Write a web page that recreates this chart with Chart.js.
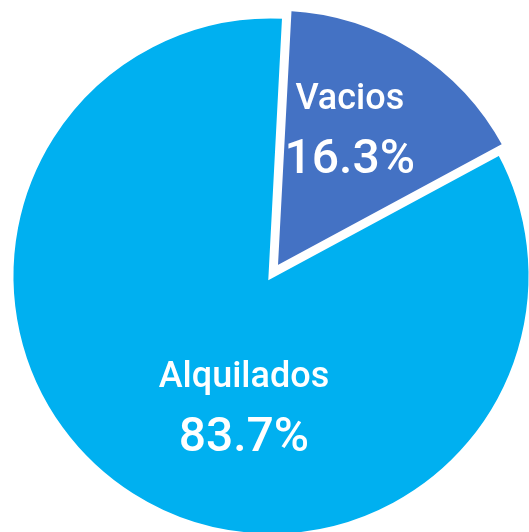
<!DOCTYPE html>
<html>
<head>
<meta charset="utf-8">
<script src="https://cdn.jsdelivr.net/npm/chart.js@4"></script>
<style>
  html, body { margin: 0; padding: 0; background: #ffffff; overflow: hidden; width: 529px; height: 532px; }
  #wrap { position: absolute; left: 0; top: 0; }
</style>
</head>
<body>
<div id="wrap"><canvas id="c" width="542" height="552"></canvas></div>
<script>
const categories = ['Vacios', 'Alquilados'];
const values = [16.3, 83.7];
const colors = ['#4472C4', '#00B0F0'];
const sliceOffsets = [32, 0];

// label placement relative to each slice: angle shift (deg) and radius fraction
const labelPlacement = [
  { dAngle: -4.8, frac: 0.62 },
  { dAngle: -20.4, frac: 0.503 }
];

const labelPlugin = {
  id: 'sliceLabels',
  afterDatasetsDraw(chart) {
    const ctx = chart.ctx;
    const meta = chart.getDatasetMeta(0);
    const total = values.reduce((a, b) => a + b, 0);
    meta.data.forEach((arc, i) => {
      const half = (arc.startAngle + arc.endAngle) / 2;
      const off = (sliceOffsets[i] || 0) / 4;
      const cx = arc.x + Math.cos(half) * off;
      const cy = arc.y + Math.sin(half) * off;
      const p = labelPlacement[i];
      const a = half + p.dAngle * Math.PI / 180;
      const r = arc.outerRadius * p.frac;
      const x = cx + Math.cos(a) * r;
      const y = cy + Math.sin(a) * r;
      ctx.save();
      ctx.fillStyle = '#ffffff';
      ctx.textAlign = 'center';
      ctx.textBaseline = 'alphabetic';
      ctx.font = '500 36px Roboto';
      ctx.fillText(categories[i], x, y - 17);
      ctx.font = '500 48px Roboto';
      ctx.fillText((values[i] / total * 100).toFixed(1) + '%', x, y + 47);
      ctx.restore();
    });
  }
};

new Chart(document.getElementById('c'), {
  type: 'pie',
  data: {
    labels: categories,
    datasets: [{
      data: values,
      backgroundColor: colors,
      borderColor: '#ffffff',
      borderWidth: 5,
      borderJoinStyle: 'miter',
      offset: sliceOffsets,
      hoverOffset: 0,
      radius: 260
    }]
  },
  options: {
    responsive: false,
    animation: false,
    rotation: 3,
    layout: { padding: 0 },
    events: [],
    plugins: {
      legend: { display: false },
      tooltip: { enabled: false }
    }
  },
  plugins: [labelPlugin]
});
</script>
</body>
</html>
